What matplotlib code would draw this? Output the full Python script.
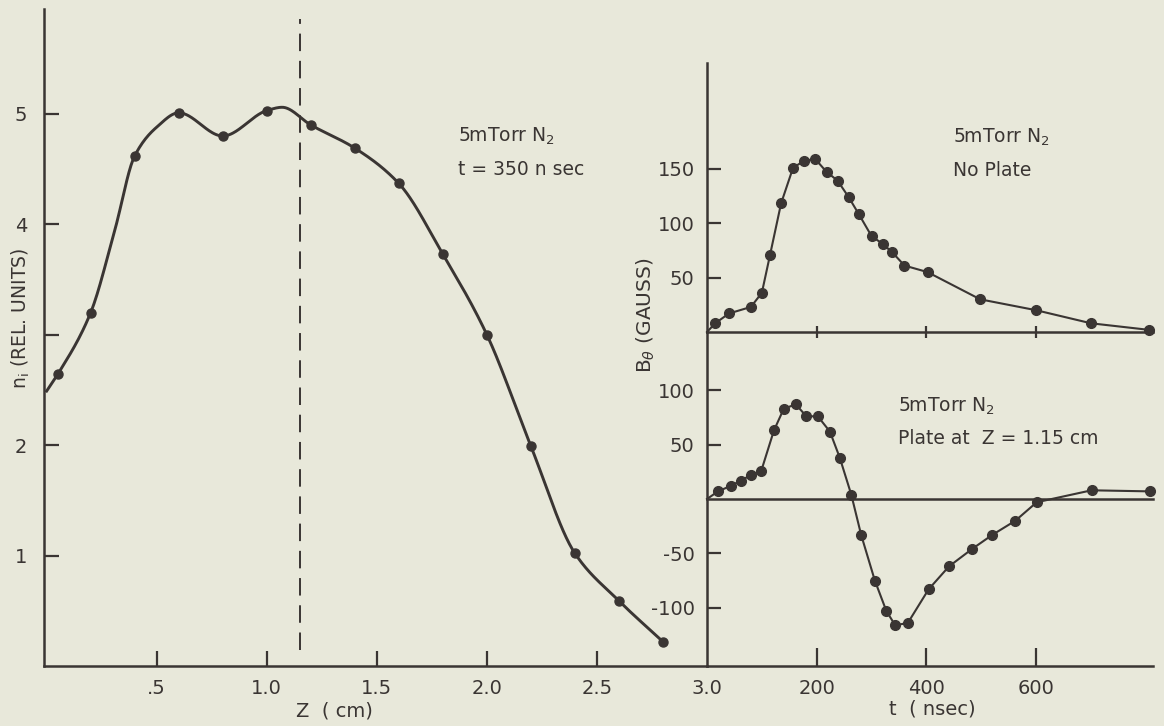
import matplotlib

matplotlib.use("Agg")
import matplotlib.pyplot as plt
import numpy as np

# ion density profile vs axial position (t = 350 ns): measured points
z_cm = [0.05, 0.2, 0.4, 0.6, 0.8, 1.0, 1.2, 1.4, 1.6, 1.8, 2.0, 2.2, 2.4, 2.6, 2.8]
n_rel = [2.64, 3.20, 4.62, 5.01, 4.80, 5.03, 4.90, 4.69, 4.37, 3.73, 3.00, 1.99, 1.02, 0.59, 0.22]
# the hand-drawn curve through them
z_line = [0.0, 0.05, 0.2, 0.31, 0.4, 0.5, 0.6, 0.8, 1.0, 1.07, 1.2, 1.4, 1.6, 1.8, 2.0, 2.2,
          2.4, 2.6, 2.8]
n_line = [2.49, 2.64, 3.20, 3.95, 4.62, 4.88, 5.01, 4.80, 5.03, 5.06, 4.90, 4.69, 4.37, 3.73,
          3.00, 1.99, 1.02, 0.59, 0.22]
plate_z = 1.15

# B_theta vs time, no plate
t_free = [15, 40, 80, 100, 115, 135, 157, 177, 197, 218, 238, 258, 277, 300, 320, 338, 360, 402,
          498, 600, 700, 805]
b_free = [8, 17, 23, 36, 71, 118, 151, 157, 159, 147, 139, 124, 108, 88, 81, 73, 61, 55, 30, 20,
          8, 2]

# B_theta vs time, plate at Z = 1.15 cm
t_plate = [20, 43, 62, 80, 99, 122, 140, 162, 181, 202, 224, 242, 263, 281, 306, 327, 343, 366,
           404, 441, 483, 520, 562, 601, 701, 808]
b_plate = [7, 12, 17, 22, 26, 63, 83, 87, 76, 76, 62, 38, 4, -33, -75, -103, -116, -114, -83,
           -62, -46, -33, -20, -3, 8, 7]

z_ticks = [0.5, 1.0, 1.5, 2.0, 2.5, 3.0]
z_labels = [".5", "1.0", "1.5", "2.0", "2.5", "3.0"]
n_ticks = [1, 2, 3, 4, 5]
n_labels = ["1", "2", "", "4", "5"]
t_ticks = [200, 400, 600]

BG = "#e8e8da"
INK = "#3a3533"
W, H = 1164, 726


def pchip(x, y, xs):
    x = np.asarray(x, float)
    y = np.asarray(y, float)
    h = np.diff(x)
    delta = np.diff(y) / h
    d = np.zeros(len(x))
    d[0], d[-1] = delta[0], delta[-1]
    for k in range(1, len(x) - 1):
        if delta[k - 1] * delta[k] > 0:
            w1 = 2 * h[k] + h[k - 1]
            w2 = h[k] + 2 * h[k - 1]
            d[k] = (w1 + w2) / (w1 / delta[k - 1] + w2 / delta[k])
    i = np.clip(np.searchsorted(x, xs) - 1, 0, len(x) - 2)
    s = (xs - x[i]) / h[i]
    h00 = 2 * s**3 - 3 * s**2 + 1
    h10 = s**3 - 2 * s**2 + s
    h01 = -2 * s**3 + 3 * s**2
    h11 = s**3 - s**2
    return h00 * y[i] + h10 * h[i] * d[i] + h01 * y[i + 1] + h11 * h[i] * d[i + 1]


def box(left, top, right, bottom):
    return [left / W, 1 - bottom / H, (right - left) / W, (bottom - top) / H]


def style(ax):
    ax.set_facecolor("none")
    for side in ("top", "right"):
        ax.spines[side].set_visible(False)
    for side in ("left", "bottom"):
        ax.spines[side].set_linewidth(1.8)
        ax.spines[side].set_color(INK)
    ax.tick_params(direction="in", width=1.6, length=10, colors=INK, labelsize=14, pad=9)


plt.rcParams["font.family"] = ["DejaVu Sans"]
plt.rcParams["mathtext.fontset"] = "dejavusans"
plt.rcParams["axes.unicode_minus"] = False

fig = plt.figure(figsize=(W / 100, H / 100), dpi=100, facecolor=BG)

# left panel
ax = fig.add_axes(box(44, 9, 707, 666))
style(ax)
ax.set_xlim(-0.012, 3.0)
ax.set_ylim(0, 5.95)
zs = np.linspace(z_line[0], z_line[-1], 600)
ax.plot(zs, pchip(z_line, n_line, zs), color=INK, lw=2.1)
ax.plot(z_cm, n_rel, "o", color=INK, ms=6.5)
ax.axvline(plate_z, ymin=0.025, ymax=0.985, color=INK, lw=1.4, dashes=(9, 5))
ax.set_xticks(z_ticks)
ax.set_xticklabels(z_labels)
ax.set_yticks(n_ticks)
ax.set_yticklabels(n_labels)
ax.tick_params(axis="both", length=11)
ax.tick_params(axis="y", pad=12)
ax.xaxis.get_major_ticks()[-1].tick1line.set_visible(False)

fig.text(458 / W, 1 - 142 / H, "5mTorr N$_\\mathregular{2}$", fontsize=13.5, color=INK)
fig.text(458 / W, 1 - 175 / H, "t = 350 n sec", fontsize=13.5, color=INK)

# right panels: lower (with plate) and upper (no plate)
axl = fig.add_axes(box(707, 332, 1153, 666))
style(axl)
axl.set_xlim(0, 813)
axl.set_ylim(-153.5, 153.5)
axl.axhline(0, color=INK, lw=1.8)
axl.plot([0] + t_plate, [0] + b_plate, color=INK, lw=1.5)
axl.plot(t_plate, b_plate, "o", color=INK, ms=7)
axl.set_xticks(t_ticks)
axl.set_yticks([-100, -50, 50, 100])
axl.tick_params(axis="x", length=13)

axu = fig.add_axes(box(707, 63, 1153, 332))
style(axu)
axu.set_xlim(0, 813)
axu.set_ylim(0, 247)
axu.plot([0] + t_free, [0] + b_free, color=INK, lw=1.5)
axu.plot(t_free, b_free, "o", color=INK, ms=7)
axu.set_xticks(t_ticks)
axu.set_xticklabels([])
axu.set_yticks([50, 100, 150])
axu.tick_params(axis="x", direction="inout", length=9)

for a in (axu, axl):
    for p in a.lines:
        p.set_clip_on(False)

fig.text(953 / W, 1 - 143 / H, "5mTorr N$_\\mathregular{2}$", fontsize=13.5, color=INK)
fig.text(953 / W, 1 - 176 / H, "No Plate", fontsize=13.5, color=INK)
fig.text(898 / W, 1 - 412 / H, "5mTorr N$_\\mathregular{2}$", fontsize=13.5, color=INK)
fig.text(898 / W, 1 - 444 / H, "Plate at  Z = 1.15 cm", fontsize=13.5, color=INK)

# axis titles
fig.text(21 / W, 1 - 318 / H, "n$_\\mathregular{i}$ (REL. UNITS)", rotation=90,
         ha="center", va="center", fontsize=13.5, color=INK)
fig.text(646 / W, 1 - 315 / H, "B$_\\theta$ (GAUSS)", rotation=90,
         ha="center", va="center", fontsize=14.5, color=INK)
fig.text(334 / W, 1 - 711 / H, "Z  ( cm)", ha="center", va="center", fontsize=14, color=INK)
fig.text(932 / W, 1 - 709 / H, "t  ( nsec)", ha="center", va="center", fontsize=14, color=INK)

fig.savefig("out.png", dpi=100, facecolor=BG)
